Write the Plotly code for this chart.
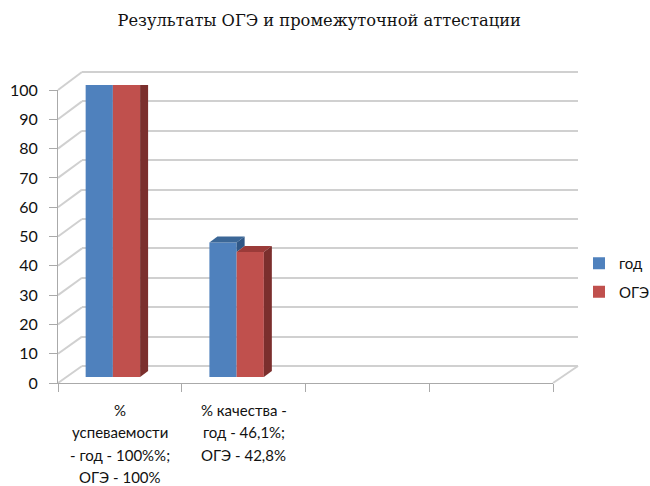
import plotly.graph_objects as go

# ---- data ----
categories = [
    "%<br>успеваемости<br>- год - 100%%;<br>ОГЭ - 100%",
    "% качества -<br>год - 46,1%;<br>ОГЭ - 42,8%",
    " ",
    "  ",
]
god = [100, 46.1, None, None]
oge = [100, 42.8, None, None]
series_names = ["год", "ОГЭ"]
y_ticks = list(range(0, 101, 10))

# ---- style / geometry ----
W, H = 650, 486
FONT = "Lato"
TXT = "#111111"
blue, red = "#4f81bd", "#c0504d"
blue_top, blue_side = "#3b6797", "#2f5786"
red_top, red_side = "#9b3b39", "#7b2f2d"
grid_col = "#d0d0d0"
axis_col = "#aaaaaa"

# planes (pixel geometry)
front_x = (58, 553); front_y = (383, 90)     # y0 pixel, y100 pixel
back_x = (82, 578);  back_y = (366, 72)
bar_x = (51, 546);   bar_y = (377, 85)
label_y0, label_dy = 410, 22.4

def px(x): return x / W
def py(y): return (H - y) / H

n = len(categories)
bar_w = 0.22
ddx = 8 / ((bar_x[1] - bar_x[0]) / n)
ddy = 6 / ((bar_y[0] - bar_y[1]) / 100)

# wall padding so the edge gridlines (0 and 100) are not clipped
pad_px = 4
pad_u = pad_px * 100 / (back_y[0] - back_y[1])

fig = go.Figure()

# wall subplot (x / y) - back gridlines
fig.add_trace(go.Scatter(x=[0], y=[None], xaxis="x", yaxis="y",
                         showlegend=False, hoverinfo="skip"))

# bars subplot (x2 / y2)
xs = list(range(n))
fig.add_trace(go.Bar(x=xs, y=god, name=series_names[0], marker=dict(color=blue, line=dict(width=0)),
                     xaxis="x2", yaxis="y2", legendgroup="a", hoverinfo="skip"))
fig.add_trace(go.Bar(x=xs, y=oge, name=series_names[1], marker=dict(color=red, line=dict(width=0)),
                     xaxis="x2", yaxis="y2", legendgroup="b", hoverinfo="skip"))

def face(xp, yp, col):
    fig.add_trace(go.Scatter(x=xp + [xp[0]], y=yp + [yp[0]], fill="toself", fillcolor=col,
                             mode="lines", line=dict(width=0, color=col),
                             xaxis="x2", yaxis="y2", showlegend=False, hoverinfo="skip"))

for i, (vb, vr) in enumerate(zip(god, oge)):
    if vb is None or vr is None:
        continue
    face([i - bar_w, i - bar_w + ddx, i + ddx, i], [vb, vb + ddy, vb + ddy, vb], blue_top)
    if vb > vr:
        face([i, i + ddx, i + ddx, i], [vr, vr + ddy, vb + ddy, vb], blue_side)
    face([i, i + ddx, i + bar_w + ddx, i + bar_w], [vr, vr + ddy, vr + ddy, vr], red_top)
    face([i + bar_w, i + bar_w + ddx, i + bar_w + ddx, i + bar_w], [0, ddy, vr + ddy, vr], red_side)

# front subplot (x3 / y3) - axes
fig.add_trace(go.Scatter(x=categories, y=[0] * n, mode="markers", marker=dict(opacity=0),
                         xaxis="x3", yaxis="y3", showlegend=False, hoverinfo="skip"))

# category labels, one line per annotation (wider line spacing than tick labels allow)
annotations = []
for cat in categories:
    for k, line in enumerate(cat.split("<br>")):
        if not line.strip():
            continue
        annotations.append(dict(x=cat, y=py(label_y0 + k * label_dy), xref="x3", yref="paper",
                                text=line, showarrow=False, xanchor="center", yanchor="middle",
                                font=dict(family=FONT, size=15, color=TXT)))

# left wall diagonals and floor edge (derived from tick values)
shapes = []
for v in y_ticks:
    yf = front_y[0] + (front_y[1] - front_y[0]) * v / 100
    yb = back_y[0] + (back_y[1] - back_y[0]) * v / 100
    shapes.append(dict(type="line", xref="paper", yref="paper",
                       x0=px(front_x[0]), y0=py(yf), x1=px(back_x[0]), y1=py(yb),
                       line=dict(color=grid_col, width=2), layer="below"))
shapes.append(dict(type="line", xref="paper", yref="paper",
                   x0=px(front_x[1]), y0=py(front_y[0]), x1=px(back_x[1]), y1=py(back_y[0]),
                   line=dict(color=grid_col, width=2), layer="below"))

fig.update_layout(
    width=W, height=H,
    margin=dict(l=0, r=0, t=0, b=0, autoexpand=False),
    paper_bgcolor="white", plot_bgcolor="rgba(0,0,0,0)",
    font=dict(family=FONT, size=15, color=TXT),
    title=dict(text="Результаты ОГЭ и промежуточной аттестации", x=0.491, xanchor="center",
               xref="paper", yref="paper", y=py(20), yanchor="middle",
               font=dict(family="DejaVu Serif", size=16.3, color=TXT)),
    barmode="group", bargap=1 - 2 * bar_w, bargroupgap=0,
    showlegend=True,
    legend=dict(x=px(579), y=py(247), xanchor="left", yanchor="top",
                font=dict(family=FONT, size=15), tracegroupgap=6, itemwidth=30,
                bgcolor="rgba(0,0,0,0)"),
    shapes=shapes,
    annotations=annotations,
    # wall
    xaxis=dict(domain=[px(back_x[0]), px(back_x[1])], range=[-0.5, n - 0.5], visible=False, fixedrange=True),
    yaxis=dict(domain=[py(back_y[0] + pad_px), py(back_y[1] - pad_px)], range=[-pad_u, 100 + pad_u],
               dtick=10, tick0=0, showgrid=True, gridcolor=grid_col, gridwidth=2, showticklabels=False,
               zeroline=False, showline=False, ticks="", anchor="x"),
    # bars
    xaxis2=dict(domain=[px(bar_x[0]), px(bar_x[1])], range=[-0.5, n - 0.5], visible=False, anchor="y2"),
    yaxis2=dict(domain=[py(bar_y[0]), py(bar_y[1])], range=[0, 100], visible=False, anchor="x2"),
    # front axes
    xaxis3=dict(domain=[px(front_x[0]), px(front_x[1])], type="category", categoryorder="array",
                categoryarray=categories, range=[-0.5, n - 0.5], tickson="boundaries",
                ticks="outside", ticklen=8, tickcolor=axis_col, showline=True, linecolor=axis_col,
                showgrid=False, zeroline=False, anchor="y3", showticklabels=False, automargin=False),
    yaxis3=dict(domain=[py(front_y[0]), py(front_y[1])], range=[0, 100], tickvals=y_ticks,
                ticks="outside", ticklen=8, tickcolor=axis_col, showline=True, linecolor=axis_col,
                showgrid=False, zeroline=False, anchor="x3", ticklabelstandoff=8, automargin=False,
                tickfont=dict(family=FONT, size=16, color=TXT)),
)

fig.write_html("out.html", config={"displayModeBar": False},
               post_script="document.body.style.margin='0';document.body.style.overflow='hidden';")
